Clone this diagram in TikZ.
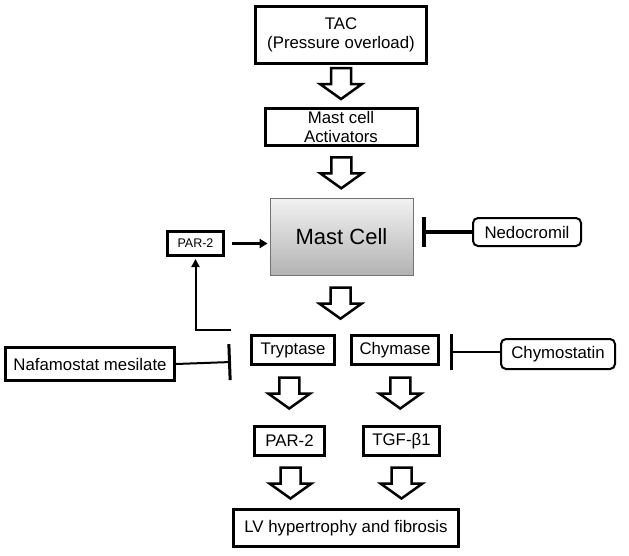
\documentclass[tikz,border=0pt]{standalone}
\usepackage{fontspec}
\setmainfont{Liberation Sans}
\usetikzlibrary{arrows.meta,calc}
\begin{document}
\begin{tikzpicture}[x=1pt,y=-1pt,
  every node/.style={font=\fontsize{16.8}{18.5}\selectfont, align=center, inner sep=0pt},
  box/.style={draw=black, line width=3pt, fill=white},
  rbox/.style={draw=black, line width=2pt, rounded corners=5pt, fill=white},
  hollow/.pic={\draw[line width=2.5pt, fill=white, line join=miter]
     (-10,-15) -- (10,-15) -- (10,1) -- (21,1) -- (0,16) -- (-21,1) -- (-10,1) -- cycle;},
]
\useasboundingbox (0,0) rectangle (629,555);

\node[box, minimum width=171pt, minimum height=57pt] (tac) at (341,35) {TAC\\(Pressure overload)};
\node[box, minimum width=152pt, minimum height=37pt] (act) at (341,127) {Mast cell\\Activators};
\node[draw=black!55, line width=0.8pt, top color=black!5, bottom color=black!30,
      minimum width=143pt, minimum height=77pt, font=\fontsize{22}{24}\selectfont] (mast) at (341.5,236.5) {Mast Cell};
\node[box, minimum width=56pt, minimum height=24pt, font=\fontsize{12.5}{14}\selectfont] (par2a) at (195.5,243.5) {PAR-2};
\node[rbox, minimum width=108pt, minimum height=28pt] (nedo) at (527,232) {Nedocromil};
\node[box, minimum width=83pt, minimum height=29pt] (tryp) at (293,350) {Tryptase};
\node[box, minimum width=87pt, minimum height=29pt] (chym) at (395,350) {Chymase};
\node[box, minimum width=169pt, minimum height=33pt] (nafa) at (90,364) {Nafamostat mesilate};
\node[rbox, minimum width=114pt, minimum height=30pt] (chymo) at (558,354) {Chymostatin};
\node[box, minimum width=70pt, minimum height=29pt] (par2b) at (289.5,441) {PAR-2};
\node[box, minimum width=76pt, minimum height=29pt] (tgf) at (401.5,441) {TGF-β1};
\node[box, minimum width=225pt, minimum height=37pt] (lv) at (346,528) {LV hypertrophy and fibrosis};

% hollow block arrows
\pic at ($(tac.south)!0.5!(act.north)+(0,-3)$) {hollow};
\pic at ($(act.south)!0.5!(mast.north)$) {hollow};
\pic at ($(mast.south)!0.5!(mast.south |- tryp.north)+(-1,-2)$) {hollow};
\pic at ($(tryp.south)!0.5!(par2b.north)+(-2,-3)$) {hollow};
\pic at ($(chym.south)!0.5!(tgf.north)+(2,-3)$) {hollow};
\pic at ($(par2b.south)!0.5!(lv.north -| par2b.south)+(1,0)$) {hollow};
\pic at ($(tgf.south)!0.5!(lv.north -| tgf.south)$) {hollow};

% PAR-2 -> Mast Cell
\draw[line width=2.5pt, -{Triangle[length=8pt,width=9pt]}, shorten <=7pt, shorten >=2pt]
  (par2a.east) -- (mast.west |- par2a.east);

% feedback from Tryptase to PAR-2
\coordinate (fb) at (231,330);
\draw[line width=2pt, -{Triangle[length=8pt,width=8pt]}, shorten >=2pt]
  (fb) -| (par2a.south);

% inhibitions
\coordinate (nedobar) at (422,232);
\draw[line width=4pt, -{Bar[width=30pt,line width=4pt]}] (nedo.west) -- (nedobar);
\coordinate (nafabar) at (231,362);
\draw[line width=2pt, -{Bar[width=36pt,line width=3pt]}] (nafa.east) -- (nafabar);
\coordinate (chymobar) at (450,352);
\draw[line width=2pt, -{Bar[width=36pt,line width=3pt]}] (chymo.west |- chymobar) -- (chymobar);
\end{tikzpicture}
\end{document}
